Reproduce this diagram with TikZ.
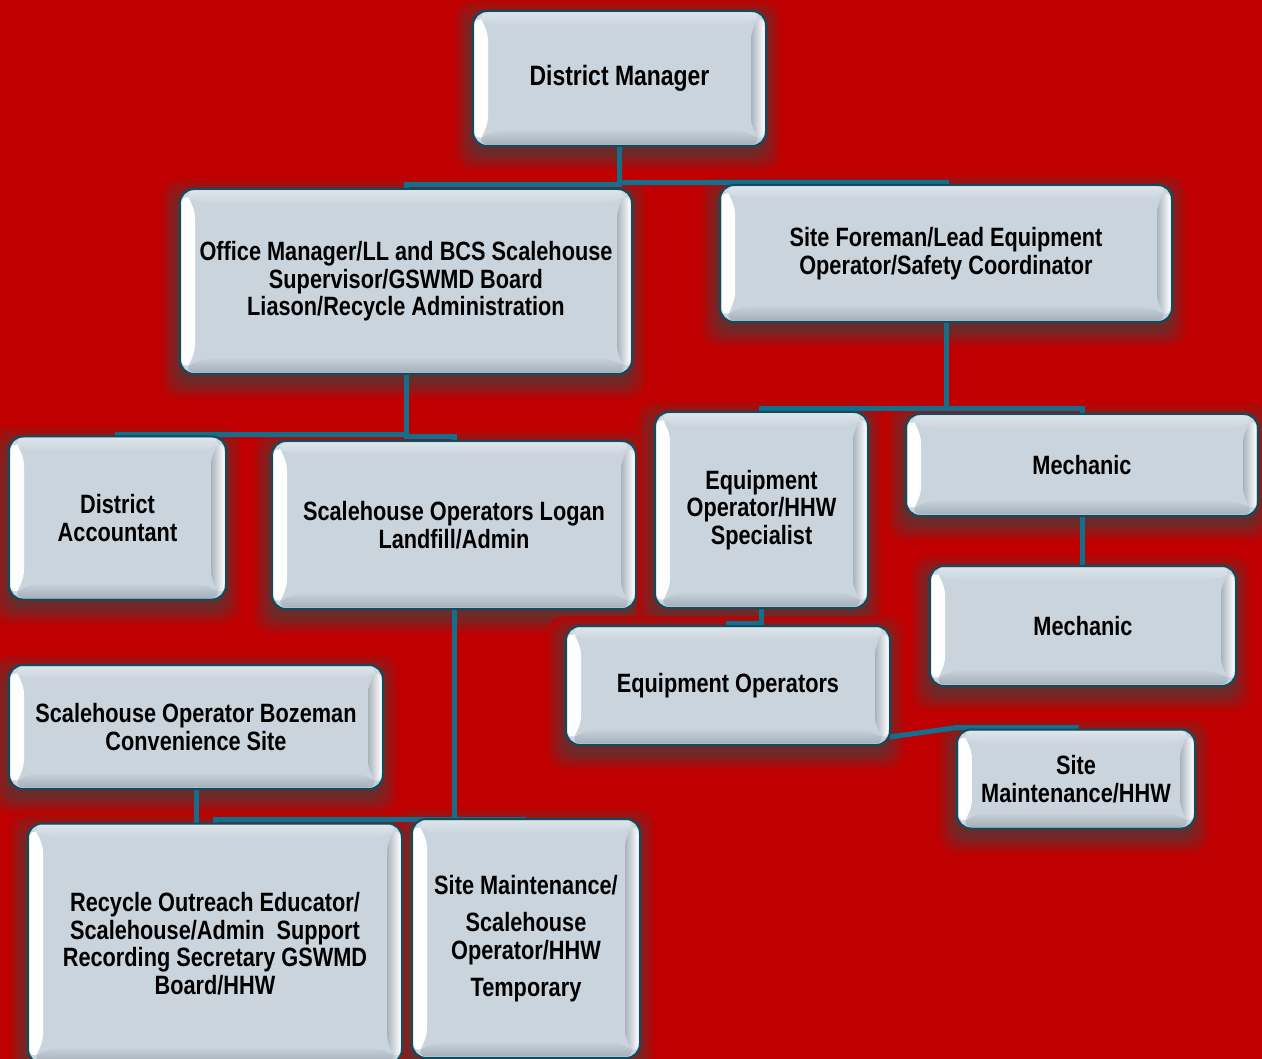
\documentclass[tikz,border=0pt]{standalone}
\usepackage{fontspec}
\setmainfont{Liberation Sans}[FakeStretch=0.82]
\usetikzlibrary{calc}
\pgfdeclarelayer{back}\pgfdeclarelayer{shad}\pgfdeclarelayer{bg}\pgfsetlayers{back,shad,bg,main}
\definecolor{bgred}{HTML}{C00000}
\definecolor{shadowc}{HTML}{6A2B2B}
\definecolor{boxfill}{HTML}{CAD4DD}
\definecolor{boxline}{HTML}{0E4C5E}
\definecolor{connc}{HTML}{12708E}
\definecolor{bevtop}{HTML}{DDE4EA}
\definecolor{bevbot}{HTML}{A6B0BA}
\definecolor{bevright}{HTML}{A9B3BC}
\newcommand\bevelcode{%
  \shade[left color=white, right color=boxfill]
    ($(path picture bounding box.north west)+(1.5pt,-1.5pt)$) --
    ($(path picture bounding box.south west)+(1.5pt,1.5pt)$) --
    ($(path picture bounding box.south west)+(15pt,15pt)$) --
    ($(path picture bounding box.north west)+(15pt,-15pt)$) -- cycle;
  \shade[top color=bevtop, bottom color=boxfill]
    ($(path picture bounding box.north west)+(1.5pt,-1.5pt)$) --
    ($(path picture bounding box.north east)+(-1.5pt,-1.5pt)$) --
    ($(path picture bounding box.north east)+(-15pt,-15pt)$) --
    ($(path picture bounding box.north west)+(15pt,-15pt)$) -- cycle;
  \shade[left color=bevright, right color=white]
    ($(path picture bounding box.north east)+(-1.5pt,-1.5pt)$) --
    ($(path picture bounding box.south east)+(-1.5pt,1.5pt)$) --
    ($(path picture bounding box.south east)+(-15pt,15pt)$) --
    ($(path picture bounding box.north east)+(-15pt,-15pt)$) -- cycle;
  \shade[top color=boxfill!85!bevbot, bottom color=bevbot]
    ($(path picture bounding box.south west)+(1.5pt,1.5pt)$) --
    ($(path picture bounding box.south east)+(-1.5pt,1.5pt)$) --
    ($(path picture bounding box.south east)+(-15pt,15pt)$) --
    ($(path picture bounding box.south west)+(15pt,15pt)$) -- cycle;
}
\newcommand\shadowfor[1]{%
  \foreach \s/\m in {15/16,12/32,9/48,6/64,3/80,0/95}{%
    \fill[shadowc!\m!bgred, rounded corners=16pt]
      ($(#1.north west)+({-3pt-\s pt},{-5pt+\s pt})$) rectangle
      ($(#1.south east)+({-1pt+\s pt},{-9pt-\s pt})$);
  }%
}
\tikzset{
  box/.style={rectangle, rounded corners=14pt, draw=boxline, line width=2pt,
    fill=boxfill, outer sep=0pt, inner sep=0pt, align=center, text=black,
    font=\bfseries\fontsize{26.5}{27.5}\selectfont,
    path picture={\bevelcode}},
  conn/.style={draw=connc, line width=5pt},
}
\begin{document}
\begin{tikzpicture}[x=1pt,y=-1pt]
\begin{pgfonlayer}{back}
\fill[bgred] (0,0) rectangle (1262,1059);
\end{pgfonlayer}
\useasboundingbox (0,0) rectangle (1262,1059);

\node[box, minimum width=293pt, minimum height=135pt, font=\bfseries\fontsize{28}{30}\selectfont] (dm) at (619.5,78.5) {District Manager};
\node[box, minimum width=452pt, minimum height=185pt] (om) at (406,281.5) {Office Manager/LL and BCS Scalehouse\\Supervisor/GSWMD Board\\Liason/Recycle Administration};
\node[box, minimum width=452pt, minimum height=137pt] (sf) at (946,253.5) {Site Foreman/Lead Equipment\\Operator/Safety Coordinator};
\node[box, minimum width=217pt, minimum height=163pt] (da) at (117.5,518) {District\\Accountant};
\node[box, minimum width=364pt, minimum height=168pt] (sl) at (454,525) {Scalehouse Operators Logan\\Landfill/Admin};
\node[box, minimum width=213pt, minimum height=196pt] (eh) at (761.5,510) {Equipment\\Operator/HHW\\Specialist};
\node[box, minimum width=352pt, minimum height=102pt] (m1) at (1082,465) {Mechanic};
\node[box, minimum width=306pt, minimum height=120pt] (m2) at (1083,626) {Mechanic};
\node[box, minimum width=324pt, minimum height=119pt] (eo) at (728,685.5) {Equipment Operators};
\node[box, minimum width=238pt, minimum height=99pt] (smh) at (1076,779) {Site\\Maintenance/HHW};
\node[box, minimum width=374pt, minimum height=124pt] (bz) at (196,727) {Scalehouse Operator Bozeman\\Convenience Site};
\node[box, minimum width=374pt, minimum height=240pt] (ro) at (215,943.5) {Recycle Outreach Educator/\\Scalehouse/Admin\ \ Support\\Recording Secretary GSWMD\\Board/HHW};
\node[box, minimum width=228pt, minimum height=239pt] (sm) at (526,938.5) {Site Maintenance/\\[10pt]Scalehouse\\Operator/HHW\\[10pt]Temporary};

\begin{pgfonlayer}{shad}
\foreach \n in {dm,om,sf,da,sl,eh,m1,m2,eo,smh,bz,ro,sm}{\shadowfor{\n}}
\end{pgfonlayer}

\begin{pgfonlayer}{bg}
\draw[conn] (dm.south) |- ([yshift=4pt]om.north) -- (om.north);
\draw[conn] (dm.south) |- ([yshift=2pt]sf.north) -- (sf.north);
\draw[conn] (om.south) |- ([yshift=2pt]da.north) -- (da.north);
\draw[conn] (om.south) |- ([yshift=4pt]sl.north) -- (sl.north);
\draw[conn] (sf.south) |- ([yshift=3pt]eh.north) -- (eh.north);
\draw[conn] (sf.south) |- ([yshift=5pt]m1.north) -- (m1.north);
\draw[conn] (m1.south) -- (m1.south |- m2.north);
\draw[conn] (eh.south) |- ([yshift=3pt]eo.north) -- (eo.north);
\draw[conn] ([yshift=8pt]eo.south east) -- ([yshift=2pt]smh.north west) -- ([yshift=2pt]smh.north) -- (smh.north);
\draw[conn] (sl.south) |- ([yshift=4pt]ro.north) -- (ro.north);
\draw[conn] (sl.south) |- (sm.north);
\draw[conn] (bz.south) -- (bz.south |- ro.north);
\end{pgfonlayer}
\end{tikzpicture}
\end{document}
